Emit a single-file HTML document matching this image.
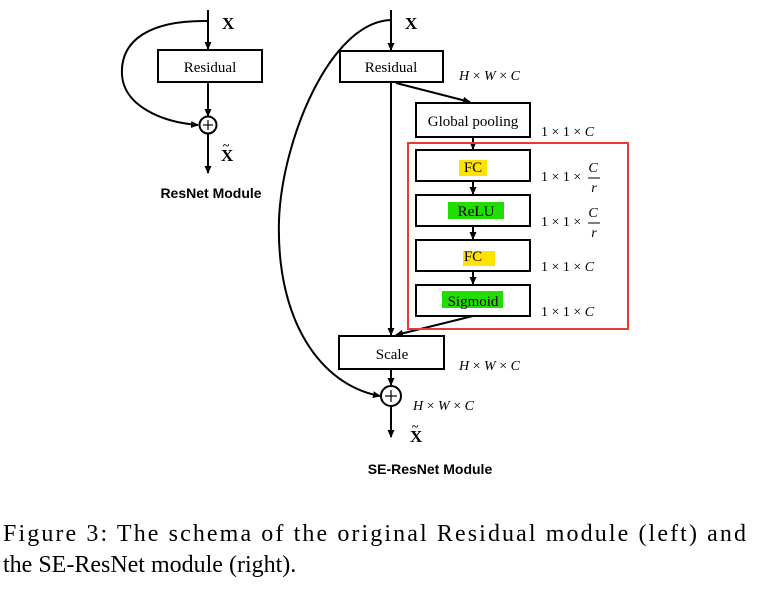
<!DOCTYPE html>
<html><head><meta charset="utf-8"><style>
html,body{margin:0;padding:0;background:#fff;}
svg{display:block;}
.t{font-family:"Liberation Serif",serif;}
.s{font-family:"Liberation Sans",sans-serif;font-weight:bold;}
</style></head><body>
<svg width="757" height="598" viewBox="0 0 757 598" xmlns="http://www.w3.org/2000/svg">
<defs><marker id="a" markerWidth="8" markerHeight="8" refX="7" refY="4" orient="auto" markerUnits="userSpaceOnUse"><path d="M0,0.5 L8,4 L0,7.5 z" fill="#000"/></marker></defs>
<g stroke="#000" stroke-width="2" fill="none">
<line x1="208" y1="10" x2="208" y2="49" marker-end="url(#a)"/>
<rect x="158" y="50" width="104" height="32" fill="#fff"/>
<line x1="208" y1="83" x2="208" y2="116" marker-end="url(#a)"/>
<circle cx="208" cy="125" r="8.5" fill="#fff"/>
<path d="M208,21 C150,20 120,40 122,75 C124,105 160,122 198,125" marker-end="url(#a)"/>
<line x1="208" y1="134" x2="208" y2="173" marker-end="url(#a)"/>
<line x1="391" y1="10" x2="391" y2="50" marker-end="url(#a)"/>
<rect x="340" y="51" width="103" height="31" fill="#fff"/>
<line x1="391" y1="83" x2="391" y2="335" marker-end="url(#a)"/>
<line x1="396" y1="83" x2="470" y2="102" marker-end="url(#a)"/>
<rect x="416" y="103" width="114" height="34" fill="#fff"/>
<line x1="473" y1="137" x2="473" y2="149" marker-end="url(#a)"/>
<rect x="416" y="150" width="114" height="31" fill="#fff"/>
<line x1="473" y1="181" x2="473" y2="194" marker-end="url(#a)"/>
<rect x="416" y="195" width="114" height="31" fill="#fff"/>
<line x1="473" y1="226" x2="473" y2="239" marker-end="url(#a)"/>
<rect x="416" y="240" width="114" height="31" fill="#fff"/>
<line x1="473" y1="271" x2="473" y2="284" marker-end="url(#a)"/>
<rect x="416" y="285" width="114" height="31" fill="#fff"/>
<line x1="473" y1="316" x2="396" y2="335" marker-end="url(#a)"/>
<rect x="339" y="336" width="105" height="33" fill="#fff"/>
<line x1="391" y1="369" x2="391" y2="385" marker-end="url(#a)"/>
<circle cx="391" cy="396" r="10" fill="#fff"/>
<path d="M391,20 C330,22 282,140 279,220 C276,320 320,385 380,396" marker-end="url(#a)"/>
<line x1="391" y1="406" x2="391" y2="437" marker-end="url(#a)"/>
</g>
<rect x="408" y="143" width="220" height="186" fill="none" stroke="#e83a2e" stroke-width="2"/>
<g stroke="#000" stroke-width="1.2"><line x1="203" y1="125" x2="213" y2="125"/><line x1="208" y1="120" x2="208" y2="130"/>
<line x1="385" y1="396" x2="397" y2="396"/><line x1="391" y1="390" x2="391" y2="402"/></g>
<rect x="459" y="160" width="28" height="16" fill="#ffe200"/>
<rect x="448" y="202" width="56" height="17" fill="#22dd00"/>
<rect x="463" y="251" width="32" height="15" fill="#ffe200"/>
<rect x="442" y="291" width="61" height="17" fill="#22dd00"/>
<g class="t" font-size="15" text-anchor="middle" fill="#000">
<text x="210" y="72">Residual</text>
<text x="391" y="72">Residual</text>
<text x="473" y="126">Global pooling</text>
<text x="473" y="172">FC</text>
<text x="476" y="216">ReLU</text>
<text x="473" y="261">FC</text>
<text x="473" y="306">Sigmoid</text>
<text x="392" y="359">Scale</text>
</g>
<g class="t" font-size="17" font-weight="bold">
<text x="222" y="29">X</text><text x="405" y="29">X</text>
<text x="221" y="161">X</text><text x="223" y="149" font-size="12">~</text>
<text x="410" y="442">X</text><text x="412" y="430" font-size="12">~</text>
</g>
<g class="t" font-size="14">
<text x="459" y="80"><tspan font-style="italic">H</tspan> × <tspan font-style="italic">W</tspan> × <tspan font-style="italic">C</tspan></text>
<text x="541" y="136">1 × 1 × <tspan font-style="italic">C</tspan></text>
<text x="541" y="181">1 × 1 ×</text>
<text x="593" y="172" font-style="italic" text-anchor="middle">C</text>
<line x1="588" y1="178" x2="600" y2="178" stroke="#000" stroke-width="1"/>
<text x="594" y="192" font-style="italic" text-anchor="middle">r</text>
<text x="541" y="226">1 × 1 ×</text>
<text x="593" y="217" font-style="italic" text-anchor="middle">C</text>
<line x1="588" y1="223" x2="600" y2="223" stroke="#000" stroke-width="1"/>
<text x="594" y="237" font-style="italic" text-anchor="middle">r</text>
<text x="541" y="271">1 × 1 × <tspan font-style="italic">C</tspan></text>
<text x="541" y="316">1 × 1 × <tspan font-style="italic">C</tspan></text>
<text x="459" y="370"><tspan font-style="italic">H</tspan> × <tspan font-style="italic">W</tspan> × <tspan font-style="italic">C</tspan></text>
<text x="413" y="410"><tspan font-style="italic">H</tspan> × <tspan font-style="italic">W</tspan> × <tspan font-style="italic">C</tspan></text>
</g>
<g class="s" font-size="14" text-anchor="middle">
<text x="211" y="198">ResNet Module</text>
<text x="430" y="474">SE-ResNet Module</text>
</g>
<g class="t" font-size="24">
<text x="3" y="541" textLength="743" lengthAdjust="spacing">Figure 3: The schema of the original Residual module (left) and</text>
<text x="3" y="572">the SE-ResNet module (right).</text>
</g>
</svg>
</body></html>
